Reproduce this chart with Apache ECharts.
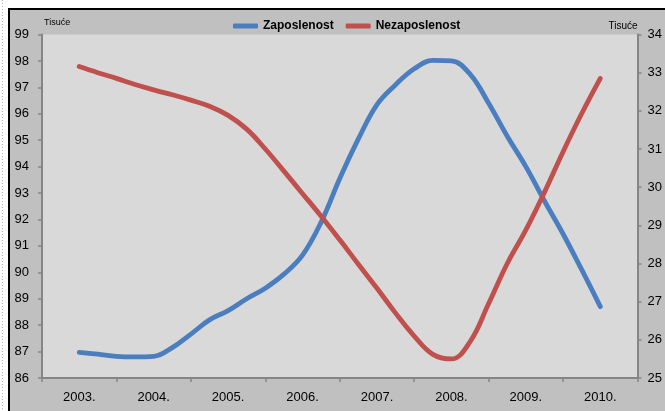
<!DOCTYPE html>
<html>
<head>
<meta charset="utf-8">
<script src="https://cdn.jsdelivr.net/npm/echarts@6/dist/echarts.min.js"></script>
<style>
html,body{margin:0;padding:0;background:#fff;overflow:hidden;}
#c{width:665px;height:411px;}
</style>
</head>
<body>
<div id="c"></div>
<script>
var years = ['2003.', '2004.', '2005.', '2006.', '2007.', '2008.', '2009.', '2010.'];
var timePoints = [2003, 2003.25, 2003.5, 2003.75, 2004, 2004.25, 2004.5, 2004.75,
  2005, 2005.25, 2005.5, 2005.75, 2006, 2006.25, 2006.5, 2006.75,
  2007, 2007.25, 2007.5, 2007.75, 2008, 2008.25, 2008.5, 2008.75,
  2009, 2009.25, 2009.5, 2009.75, 2010];
var zaposlenost = [86.97, 86.9, 86.82, 86.8, 86.82, 87.15, 87.66, 88.2,
  88.55, 89.0, 89.4, 89.93, 90.65, 91.9, 93.55, 95.05,
  96.35, 97.1, 97.7, 98.02, 98.0, 97.5, 96.4, 95.15,
  94.0, 92.7, 91.45, 90.1, 88.7];
var nezaposlenost = [33.16, 33.0, 32.85, 32.69, 32.55, 32.42, 32.28, 32.12,
  31.88, 31.52, 31.0, 30.42, 29.83, 29.24, 28.62, 27.98,
  27.35, 26.7, 26.1, 25.62, 25.5, 25.95, 26.95, 28.0,
  28.88, 29.87, 30.93, 31.93, 32.85];
var leftTicks = {min: 86, max: 99, interval: 1};
var rightTicks = {min: 25, max: 34, interval: 1};

function pairs(t, v) { return t.map(function (x, i) { return [x, v[i]]; }); }

var chart = echarts.init(document.getElementById('c'), null, {renderer: 'canvas'});
var axisCol = '#858585';
var font = 'Liberation Sans, Arial, sans-serif';
chart.setOption({
  backgroundColor: '#ffffff',
  animation: false,
  textStyle: {fontFamily: font},
  graphic: [
    {type: 'line', shape: {x1: 2.5, y1: 0, x2: 2.5, y2: 411}, style: {stroke: '#bbbbbb', lineWidth: 1, lineDash: [1, 2]}, z: -10},
    {type: 'rect', shape: {x: 9, y: 9, width: 670, height: 420}, style: {fill: '#c0c0c0', stroke: '#000000', lineWidth: 2}, z: -10}
  ],
  legend: {
    left: 228, top: 15,
    itemWidth: 25, itemHeight: 5, itemGap: 12,
    icon: 'roundRect',
    textStyle: {fontFamily: font, fontSize: 12, fontWeight: 'bold', color: '#000'},
    data: ['Zaposlenost', 'Nezaposlenost']
  },
  grid: {left: 42, right: 18, top: 34.5, bottom: 33, show: true, backgroundColor: '#d9d9d9', borderWidth: 0, containLabel: false},
  xAxis: [
    {
      type: 'category', data: years, boundaryGap: true, position: 'bottom',
      axisLine: {lineStyle: {color: axisCol, width: 2}},
      axisTick: {show: true, length: 4, interval: 0, lineStyle: {color: axisCol, width: 1.5}},
      axisLabel: {color: '#000', fontSize: 13, margin: 13, fontFamily: font},
      splitLine: {show: false}
    },
    {
      type: 'value', min: 2002.5, max: 2010.5, show: false
    }
  ],
  yAxis: [
    {
      type: 'value', min: leftTicks.min, max: leftTicks.max, interval: leftTicks.interval, position: 'left',
      name: 'Tisuće', nameLocation: 'end', nameGap: 7,
      nameTextStyle: {fontSize: 9, color: '#000', align: 'left', padding: [0, 0, 0, 2], fontFamily: font},
      axisLine: {show: true, lineStyle: {color: axisCol, width: 2}},
      axisTick: {show: true, length: 4, lineStyle: {color: axisCol, width: 1.5}},
      axisLabel: {color: '#000', fontSize: 13, margin: 13, fontFamily: font},
      splitLine: {show: false}
    },
    {
      type: 'value', min: rightTicks.min, max: rightTicks.max, interval: rightTicks.interval, position: 'right',
      name: 'Tisuće', nameLocation: 'end', nameGap: 3,
      nameTextStyle: {fontSize: 10, color: '#000', align: 'right', padding: [0, 0, 0, 0], fontFamily: font},
      axisLine: {show: true, lineStyle: {color: axisCol, width: 2}},
      axisTick: {show: true, length: 4, lineStyle: {color: axisCol, width: 1.5}},
      axisLabel: {color: '#000', fontSize: 13, margin: 10, fontFamily: font},
      splitLine: {show: false}
    }
  ],
  series: [
    {
      name: 'Zaposlenost', type: 'line', xAxisIndex: 1, yAxisIndex: 0,
      data: pairs(timePoints, zaposlenost), smooth: 0.4, showSymbol: false, symbol: 'none',
      lineStyle: {color: '#4a7ebf', width: 4.8, cap: 'round', join: 'round'},
      itemStyle: {color: '#4a7ebf'}
    },
    {
      name: 'Nezaposlenost', type: 'line', xAxisIndex: 1, yAxisIndex: 1,
      data: pairs(timePoints, nezaposlenost), smooth: 0.4, showSymbol: false, symbol: 'none',
      lineStyle: {color: '#c0504d', width: 4.8, cap: 'round', join: 'round'},
      itemStyle: {color: '#c0504d'}
    }
  ]
});
</script>
</body>
</html>
